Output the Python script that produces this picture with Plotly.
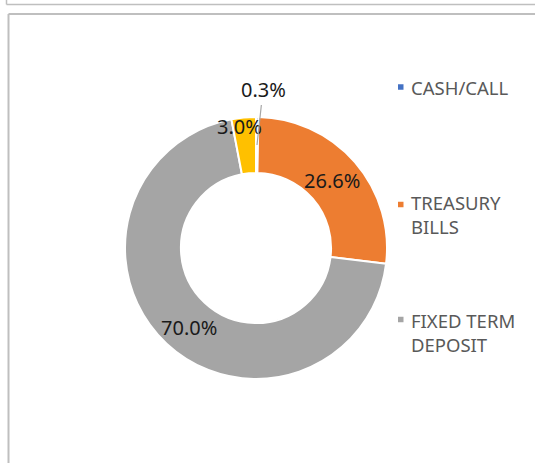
import plotly.graph_objects as go

categories = ["CASH/CALL", "TREASURY BILLS", "FIXED TERM DEPOSIT", "OTHER"]
legend_labels = ["CASH/CALL", "TREASURY<br>BILLS", "FIXED TERM<br>DEPOSIT"]
values = [0.3, 26.6, 70.0, 3.0]
colors = ["#4472C4", "#ED7D31", "#A5A5A5", "#FFC000"]

W, H = 535, 463


def px(x):
    return x / W


def py(y):
    return 1 - y / H


fig = go.Figure()
fig.add_trace(go.Pie(
    labels=categories,
    values=values,
    sort=False,
    direction="clockwise",
    rotation=0,
    hole=0.573,
    marker=dict(colors=colors, line=dict(color="white", width=2)),
    textinfo="none",
    domain=dict(x=[px(125), px(387)], y=[py(379), py(117)]),
    showlegend=False,
    hoverinfo="label+percent",
))

# Frame lines
frame = "#bfbfbf"
shapes = [
    dict(type="line", xref="paper", yref="paper", x0=px(6.5), x1=1, y0=py(4.5), y1=py(4.5), line=dict(color=frame, width=1.5)),
    dict(type="line", xref="paper", yref="paper", x0=px(6.5), x1=px(6.5), y0=1, y1=py(4.5), line=dict(color=frame, width=1.5)),
    dict(type="line", xref="paper", yref="paper", x0=px(8.5), x1=1, y0=py(14), y1=py(14), line=dict(color=frame, width=2)),
    dict(type="line", xref="paper", yref="paper", x0=px(8.5), x1=px(8.5), y0=py(14), y1=0, line=dict(color=frame, width=2)),
]

label_font = dict(family="Noto Sans", size=20, color="#1a1a1a")
annotations = []
# data labels (text from values)
label_pos = {1: (331.5, 180), 2: (188.5, 327), 3: (239, 127)}
for i, (x, y) in label_pos.items():
    annotations.append(dict(xref="paper", yref="paper", x=px(x), y=py(y), text=f"{values[i]:.1f}%",
                            showarrow=False, font=label_font, xanchor="center", yanchor="middle"))
# tiny slice label with leader line
annotations.append(dict(xref="paper", yref="paper", x=px(257), y=py(145), text=f"{values[0]:.1f}%",
                        showarrow=True, arrowhead=0, arrowwidth=1.2, arrowcolor="#a6a6a6",
                        ax=6, ay=-55, standoff=0, font=label_font))

# manual legend (first three series)
marker_y = [87, 204.5, 319.5]
text_y = [87, 215, 332]
for lab, col, my, ty in zip(legend_labels, colors, marker_y, text_y):
    shapes.append(dict(type="rect", xref="paper", yref="paper",
                       x0=px(398), x1=px(403.5), y0=py(my + 2.75), y1=py(my - 2.75),
                       fillcolor=col, line=dict(width=0)))
    annotations.append(dict(xref="paper", yref="paper", x=px(409), y=py(ty),
                            text=lab, showarrow=False, align="left",
                            xanchor="left", yanchor="middle",
                            font=dict(family="Noto Sans", size=18.5, color="#595959")))

fig.update_layout(
    width=W, height=H,
    margin=dict(l=0, r=0, t=0, b=0),
    paper_bgcolor="white",
    plot_bgcolor="white",
    shapes=shapes,
    annotations=annotations,
)

fig.write_html("out.html", config={"displayModeBar": False},
               post_script="document.body.style.margin='0';document.body.style.overflow='hidden';")
